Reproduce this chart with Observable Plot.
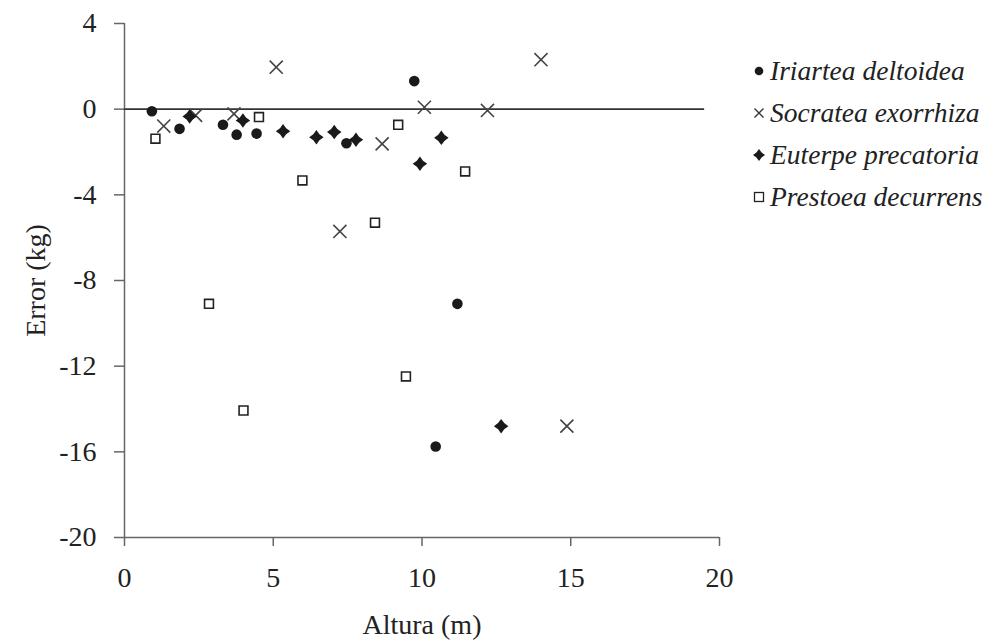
<!DOCTYPE html>
<html>
<head>
<meta charset="utf-8">
<script src="https://cdn.jsdelivr.net/npm/d3@7"></script>
<script src="https://cdn.jsdelivr.net/npm/@observablehq/plot@0.6"></script>
<style>
  html, body { margin: 0; padding: 0; background: #fff; }
  #wrap { position: relative; width: 1002px; height: 643px; }
  #legend { position: absolute; left: 752px; top: 50px; font-family: "Liberation Serif", serif; font-style: italic; font-size: 27.5px; color: #222; }
  .row { height: 42px; display: flex; align-items: center; white-space: nowrap; }
  .row svg { margin-right: 4px; }
</style>
</head>
<body>
<div id="wrap"><div id="legend"></div></div>
<script>
// ---- data ----
const species = ["Iriartea deltoidea", "Socratea exorrhiza", "Euterpe precatoria", "Prestoea decurrens"];
const xTicks = [0, 5, 10, 15, 20];
const yTicks = [-20, -16, -12, -8, -4, 0, 4];

const iriarteaAltura = [0.92, 1.85, 3.31, 3.77, 4.44, 7.46, 9.74, 11.19, 10.46];
const iriarteaError  = [-0.10, -0.92, -0.73, -1.19, -1.14, -1.59, 1.31, -9.09, -15.75];

const socrateaAltura = [1.32, 2.39, 3.68, 5.10, 7.24, 8.66, 10.08, 12.20, 14.00, 14.87];
const socrateaError  = [-0.79, -0.29, -0.22, 1.96, -5.71, -1.62, 0.09, -0.06, 2.31, -14.80];

const euterpeAltura = [2.19, 3.98, 5.33, 6.45, 7.05, 7.78, 9.93, 10.65, 12.66];
const euterpeError  = [-0.34, -0.53, -1.03, -1.31, -1.07, -1.43, -2.55, -1.34, -14.80];

const prestoeaAltura = [1.04, 4.52, 5.98, 9.20, 11.45, 2.84, 9.46, 4.00, 8.42];
const prestoeaError  = [-1.38, -0.37, -3.33, -0.73, -2.91, -9.09, -12.48, -14.07, -5.30];

// ---- build table ----
function rows(name, xs, ys) { return xs.map((x, i) => ({species: name, altura: x, error: ys[i]})); }
const iriartea = rows(species[0], iriarteaAltura, iriarteaError);
const socratea = rows(species[1], socrateaAltura, socrateaError);
const euterpe  = rows(species[2], euterpeAltura, euterpeError);
const prestoea = rows(species[3], prestoeaAltura, prestoeaError);

// four-pointed concave diamond (Excel-like marker)
const star4 = {
  draw(context, size) {
    const R = Math.sqrt(size / Math.PI) * 1.45;
    const r = R * 0.6;
    for (let k = 0; k < 8; k++) {
      const a = k * Math.PI / 4 - Math.PI / 2;
      const rr = k % 2 === 0 ? R : r;
      const px = rr * Math.cos(a), py = rr * Math.sin(a);
      if (k === 0) context.moveTo(px, py); else context.lineTo(px, py);
    }
    context.closePath();
  }
};

const font = "Liberation Serif";
const fmt = d => String(d);
const chart = Plot.plot({
  width: 1002,
  height: 643,
  marginLeft: 124,
  marginRight: 283,
  marginTop: 23,
  marginBottom: 106,
  x: {domain: [0, 20], ticks: xTicks},
  y: {domain: [-20, 4], ticks: yTicks},
  style: {fontFamily: font, fontSize: "28px", background: "#fff", color: "#222", overflow: "visible"},
  marks: [
    Plot.axisX({ticks: xTicks, tickFormat: fmt, tickSize: 9, tickPadding: 21, fontSize: 28, fontFamily: font, label: null, stroke: "#666", strokeWidth: 1.5}),
    Plot.axisY({ticks: yTicks, tickFormat: fmt, tickSize: 10, tickPadding: 18, fontSize: 28, fontFamily: font, label: null, stroke: "#666", strokeWidth: 1.5}),
    Plot.ruleX([0], {stroke: "#666", strokeWidth: 1.5}),
    Plot.ruleY([-20], {stroke: "#666", strokeWidth: 1.5}),
    Plot.ruleY([0], {x1: 0, x2: 19.5, stroke: "#333", strokeWidth: 1.8}),
    Plot.dot(prestoea, {x: "altura", y: "error", symbol: "square", r: 5, fill: "#fff", stroke: "#222", strokeWidth: 1.6}),
    Plot.dot(socratea, {x: "altura", y: "error", symbol: "times", r: 6, stroke: "#444", strokeWidth: 1.6}),
    Plot.dot(euterpe, {x: "altura", y: "error", symbol: star4, r: 5, fill: "#1a1a1a", stroke: "none"}),
    Plot.dot(iriartea, {x: "altura", y: "error", symbol: "circle", r: 5.3, fill: "#1a1a1a", stroke: "none"}),
    Plot.text(["Altura (m)"], {frameAnchor: "bottom", lineAnchor: "middle", textAnchor: "middle", dy: 88, fontSize: 28, fontFamily: font, fill: "#222"}),
    Plot.text(["Error (kg)"], {frameAnchor: "left", textAnchor: "middle", lineAnchor: "middle", dx: -88, rotate: -90, fontSize: 28, fontFamily: font, fill: "#222"})
  ]
});
document.getElementById("wrap").prepend(chart);

// ---- legend ----
const markerSvgs = [
  '<svg width="14" height="14" viewBox="-7 -7 14 14"><circle r="4.3" fill="#1a1a1a"/></svg>',
  '<svg width="14" height="14" viewBox="-7 -7 14 14"><path d="M-4.5,-4.5L4.5,4.5M-4.5,4.5L4.5,-4.5" stroke="#333" stroke-width="1.4"/></svg>',
  '<svg width="14" height="14" viewBox="-7 -7 14 14"><path d="M0,-6L2.6,-2.6L6,0L2.6,2.6L0,6L-2.6,2.6L-6,0L-2.6,-2.6Z" fill="#1a1a1a"/></svg>',
  '<svg width="14" height="14" viewBox="-7 -7 14 14"><rect x="-4.5" y="-4.5" width="9" height="9" fill="#fff" stroke="#222" stroke-width="1.3"/></svg>'
];
const legend = document.getElementById("legend");
species.forEach((s, i) => {
  const row = document.createElement("div");
  row.className = "row";
  row.innerHTML = markerSvgs[i] + "<span>" + s + "</span>";
  legend.appendChild(row);
});
</script>
</body>
</html>
